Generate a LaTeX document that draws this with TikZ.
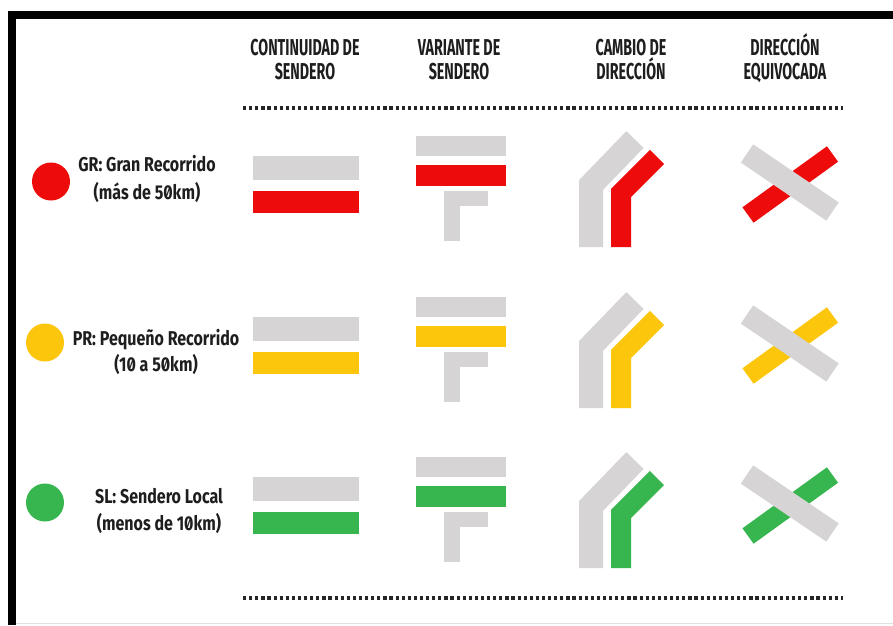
\documentclass[tikz,border=0pt]{standalone}
\usepackage{fontspec}
\newfontfamily\hdrfont{Fira Sans}[FakeStretch=0.62]
\newfontfamily\lblfont{Fira Sans}[FakeStretch=0.8, RawFeature=+zero]
\definecolor{trred}{HTML}{EE0B0B}
\definecolor{tryel}{HTML}{FBC60C}
\definecolor{trgrn}{HTML}{37B64F}
\definecolor{trgray}{HTML}{D6D4D4}
\definecolor{trtext}{HTML}{1E1E1E}
\tikzset{
  hdr/.style={anchor=base, inner sep=0pt, text=trtext, font=\hdrfont\bfseries\fontsize{23}{23}\selectfont},
  lbl/.style={anchor=base, inner sep=0pt, text=trtext, font=\lblfont\bfseries\fontsize{20}{20}\selectfont},
  dotline/.style={line width=3.2pt, dash pattern=on 3.2pt off 2.9pt, black!85},
}
\begin{document}
\begin{tikzpicture}[x=1pt, y=-1pt]
\useasboundingbox (0,0) rectangle (893,625);
\fill[white] (0,0) rectangle (893,625);
% frame
\fill[black] (8,11) rectangle (893,19);
\fill[black] (8,11) rectangle (16,625);
\draw[black!12, line width=1pt] (16,623.5) -- (893,623.5);
% headers
\node[hdr] (h1a) at (305,55) {CONTINUIDAD DE};
\node[hdr] (h1b) at (305,79) {SENDERO};
\node[hdr] (h2a) at (459,55) {VARIANTE DE};
\node[hdr] (h2b) at (459,79) {SENDERO};
\node[hdr] (h3a) at (631,55) {CAMBIO DE};
\node[hdr] (h3b) at (631,79) {DIRECCIÓN};
\node[hdr] (h4a) at (785,55) {DIRECCIÓN};
\node[hdr] (h4b) at (785,79) {EQUIVOCADA};
% dotted lines
\draw[dotline] (243,108) -- (843,108);
\draw[dotline] (243,598) -- (843,598);
% row labels
\fill[trred] (51,181.5) circle (19);
\node[lbl] (gr1) at (147,171) {GR: Gran Recorrido};
\node[lbl] (gr2) at (147,199) {(más de 50km)};
\fill[tryel] (45,342.5) circle (19);
\node[lbl] (pr1) at (156,345.5) {PR: Pequeño Recorrido};
\node[lbl] (pr2) at (156,371.5) {(10 a 50km)};
\fill[trgrn] (45,502.5) circle (19);
\node[lbl] (sl1) at (159,503.5) {SL: Sendero Local};
\node[lbl] (sl2) at (159,530.5) {(menos de 10km)};
% symbols per row
\foreach \col/\dy in {trred/0, tryel/161, trgrn/321}{
  \begin{scope}[shift={(0,\dy)}]
    % continuidad
    \fill[trgray] (253,156) rectangle (359,180);
    \fill[\col] (253,191) rectangle (359,213);
    % variante
    \fill[trgray] (416,136) rectangle (506,156);
    \fill[\col] (416,165) rectangle (506,186);
    \fill[trgray] (444,191) rectangle (460,241);
    \fill[trgray] (444,191) rectangle (488,206);
    % cambio de direccion
    \draw[trgray, line width=24pt, line join=miter] (591,247) -- (591,185) -- (635,139.5);
    \draw[\col, line width=20pt, line join=miter] (621,247) -- (621,193) -- (657,157);
    % direccion equivocada
    \draw[\col, line width=19pt] (748,215) -- (832.5,154);
    \draw[trgray, line width=22pt] (747,153.5) -- (832.5,211.5);
  \end{scope}
}
\end{tikzpicture}
\end{document}
